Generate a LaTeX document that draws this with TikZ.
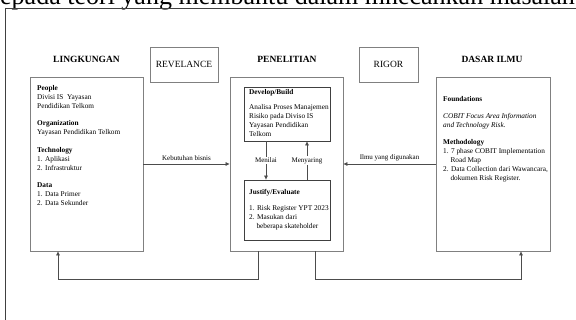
\documentclass[tikz,border=0pt]{standalone}
\usepackage{fontspec}
\setmainfont{Liberation Serif}
\usetikzlibrary{arrows.meta,calc}
\begin{document}
\begin{tikzpicture}[x=1pt,y=-1pt,
  box/.style={draw=black!50, line width=0.9pt, inner sep=0},
  ibox/.style={draw=black!75, line width=0.8pt, inner sep=0},
  title/.style={font=\fontsize{9.5}{11}\selectfont\bfseries, inner sep=0},
  tag/.style={draw=black!50, line width=0.9pt, font=\fontsize{9.5}{11}\selectfont, minimum height=35pt, inner sep=0},
  body/.style={font=\fontsize{7.3}{9}\selectfont, align=left, inner sep=0, anchor=north west},
  lbl/.style={font=\fontsize{7}{8}\selectfont, inner sep=1pt},
  conn/.style={draw=black!70, line width=0.7pt},
  arr/.style={conn, -{Triangle[length=4pt,width=3.5pt]}}
]
\useasboundingbox (0,0) rectangle (576,320);
\clip (0,0) rectangle (576,320);
\fill[white] (0,0) rectangle (576,320);

% page text and frame
\node[anchor=base west, inner sep=0, font=\fontsize{26}{30}\selectfont] (head) at (0,4.5) {epada teori yang membantu dalam mnecahkan masalah};
\draw[draw=black!75, line width=0.8pt] (5,8) rectangle (600,340);

% titles
\node[title] (t1) at (86.5,59) {LINGKUNGAN};
\node[title] (t2) at (287,59) {PENELITIAN};
\node[title] (t3) at (492,59) {DASAR ILMU};
\node[tag, minimum width=68pt] (rev) at (184,64.5) {REVELANCE};
\node[tag, minimum width=59pt] (rig) at (388.5,64.5) {RIGOR};

% main boxes
\node[box, minimum width=113pt, minimum height=174pt] (lbox) at (86.5,164) {};
\node[box, minimum width=113pt, minimum height=174pt] (cbox) at (286.5,164) {};
\node[box, minimum width=114pt, minimum height=174pt] (rbox) at (493,164) {};
\node[ibox, minimum width=86pt, minimum height=54pt] (dev) at (287,114) {};
\node[ibox, minimum width=86pt, minimum height=60pt] (jus) at (287,210) {};

% texts
\node[body] (ltxt) at (37,85.5) {\textbf{People}\\Divisi IS\ \ Yayasan\\Pendidikan Telkom\\[8pt]
\textbf{Organization}\\Yayasan Pendidikan Telkom\\[8.5pt]
\textbf{Technology}\\1. Aplikasi\\2. Infrastruktur\\[8.5pt]
\textbf{Data}\\1. Data Primer\\2. Data Sekunder};

\node[body] (rtxt) at (443,96.5) {\textbf{Foundations}\\[8pt]
\textit{COBIT Focus Area Information}\\\textit{and Technology Risk.}\\[8pt]
\textbf{Methodology}\\1. 7 phase COBIT Implementation\\\hphantom{1.\ }Road Map\\
2. Data Collection dari Wawancara,\\\hphantom{2.\ }dokumen Risk Register.};

\node[body] (dtxt) at (249,89.5) {\textbf{Develop/Build}\\[6pt]
Analisa Proses Manajemen\\Risiko pada Diviso IS\\Yayasan Pendidikan\\Telkom};

\node[body] (jtxt) at (249,189.5) {\textbf{Justify/Evaluate}\\[7pt]
1. Risk Register YPT 2023\\2. Masukan dari\\\hphantom{2.\ }beberapa skateholder};

% connectors
\draw[arr] (lbox.east) -- (cbox.west) node[lbl, midway, above=2pt] (kb) {Kebutuhan bisnis};
\draw[arr] (rbox.west) -- (cbox.east) node[lbl, midway, above=2pt] (iy) {Ilmu yang digunakan};
\draw[arr] ([xshift=-21pt]dev.south) -- ([xshift=-21pt]jus.north) node[lbl, midway, fill=white] (mn) {Menilai};
\draw[arr] ([xshift=20pt]jus.north) -- ([xshift=20pt]dev.south) node[lbl, midway, fill=white] (ms) {Menyaring};
\draw[arr] ([xshift=-28.5pt]cbox.south) -- ++(0,28) -| ([xshift=-28.5pt]lbox.south);
\draw[arr] ([xshift=28.5pt]cbox.south) -- ++(0,28) -| ([xshift=28pt]rbox.south);
\end{tikzpicture}
\end{document}
